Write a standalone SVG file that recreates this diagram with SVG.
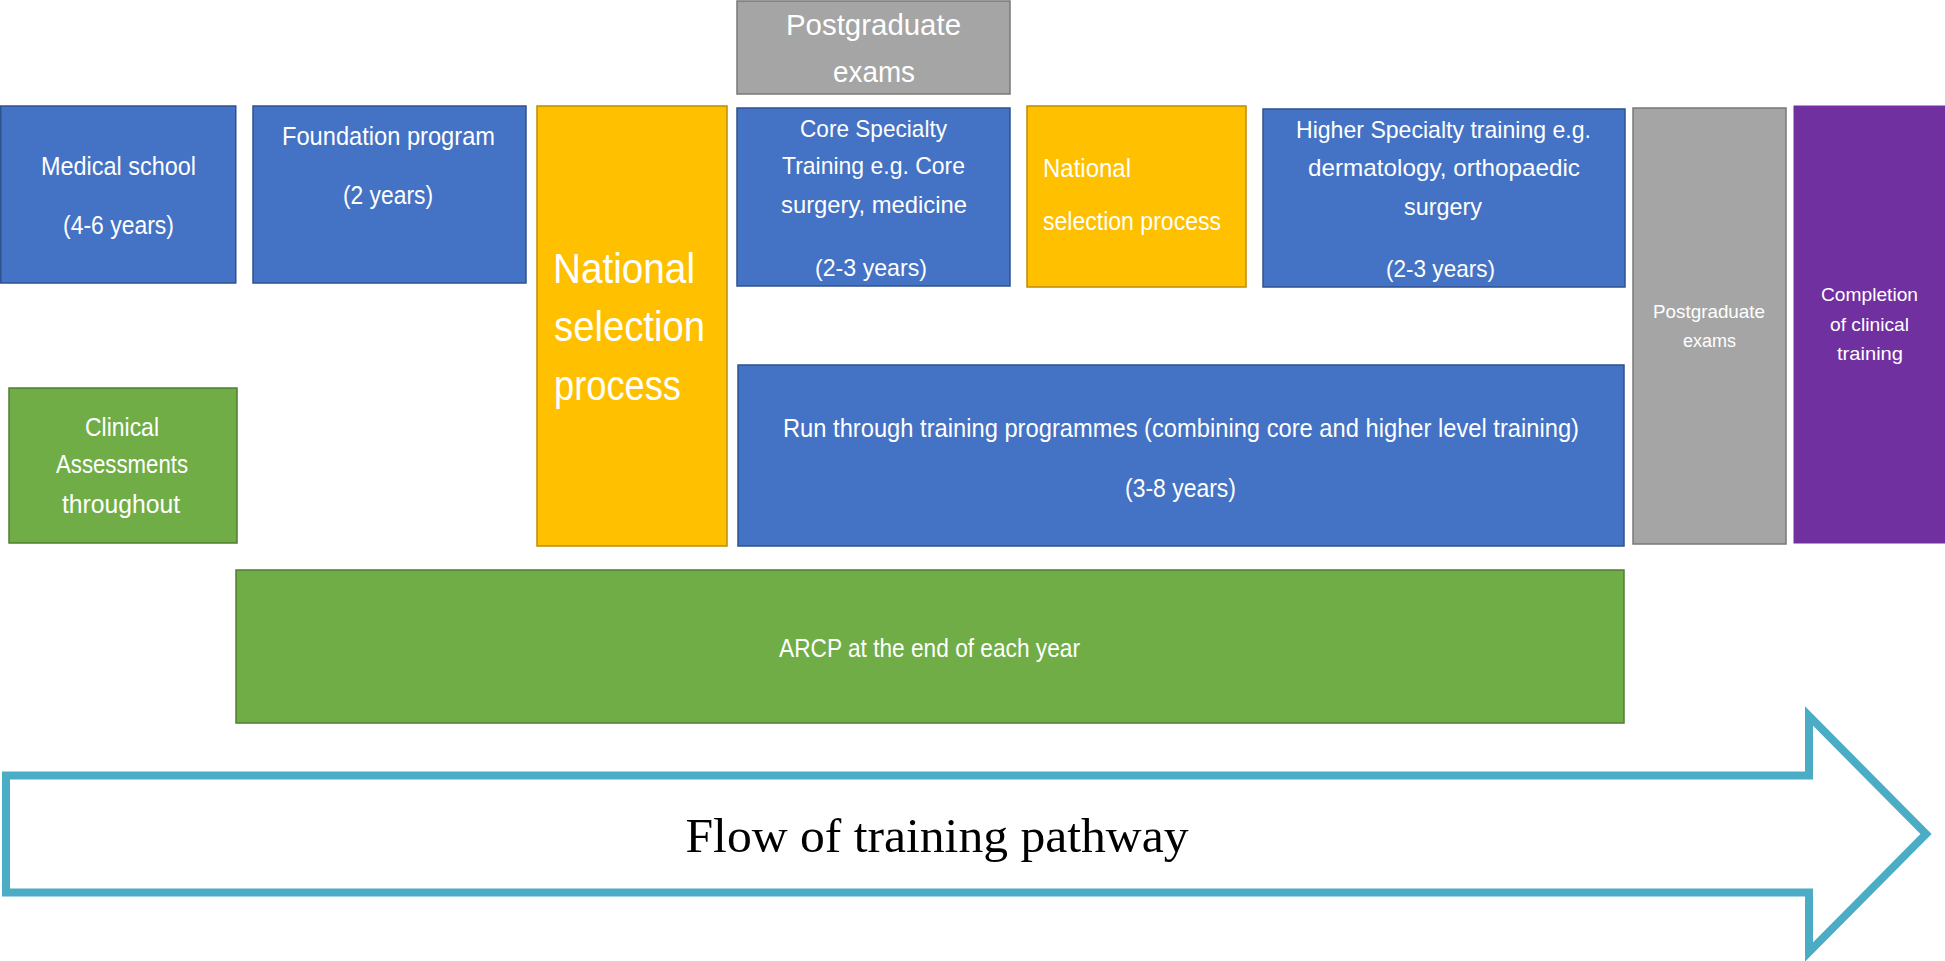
<svg xmlns="http://www.w3.org/2000/svg" width="1945" height="961" viewBox="0 0 1945 961">
<style>
.blue{fill:#4472C4;stroke:#2F528F;stroke-width:1.5}
.yellow{fill:#FFC000;stroke:#BC8C00;stroke-width:1.5}
.green{fill:#70AD47;stroke:#507E32;stroke-width:1.5}
.gray{fill:#A5A5A5;stroke:#787878;stroke-width:1.5}
.purple{fill:#7030A0;stroke:#7030A0;stroke-width:1}
text{font-family:"Liberation Sans",Arial,sans-serif;fill:#FFFFFF}
.c{text-anchor:middle}
.flow{font-family:"Liberation Serif","Times New Roman",serif;fill:#000000;text-anchor:middle}
</style>
<rect width="1945" height="961" fill="#FFFFFF"/>
<g id="medical-school">
<rect class="blue" x="0.75" y="106" width="235" height="177"/>
<text class="c" x="118.5" y="175" font-size="26" textLength="155" lengthAdjust="spacingAndGlyphs">Medical school</text>
<text class="c" x="118.5" y="234" font-size="26" textLength="111" lengthAdjust="spacingAndGlyphs">(4-6 years)</text>
</g>
<g id="foundation-program">
<rect class="blue" x="253" y="106" width="273" height="177"/>
<text class="c" x="388.5" y="145" font-size="26" textLength="213" lengthAdjust="spacingAndGlyphs">Foundation program</text>
<text class="c" x="388" y="204" font-size="26" textLength="90" lengthAdjust="spacingAndGlyphs">(2 years)</text>
</g>
<g id="national-selection-1">
<rect class="yellow" x="537" y="106" width="190" height="440"/>
<text x="553" y="283" font-size="42" textLength="142" lengthAdjust="spacingAndGlyphs">National</text>
<text x="554" y="341" font-size="42" textLength="151" lengthAdjust="spacingAndGlyphs">selection</text>
<text x="554" y="400" font-size="42" textLength="127" lengthAdjust="spacingAndGlyphs">process</text>
</g>
<g id="postgraduate-exams-top">
<rect class="gray" x="737" y="1" width="273" height="93"/>
<text class="c" x="873.5" y="35" font-size="30" textLength="175" lengthAdjust="spacingAndGlyphs">Postgraduate</text>
<text class="c" x="874" y="82" font-size="30" textLength="82" lengthAdjust="spacingAndGlyphs">exams</text>
</g>
<g id="core-specialty">
<rect class="blue" x="737" y="108" width="273" height="178"/>
<text class="c" x="873.5" y="137" font-size="24" textLength="147" lengthAdjust="spacingAndGlyphs">Core Specialty</text>
<text class="c" x="873.5" y="174" font-size="24" textLength="183" lengthAdjust="spacingAndGlyphs">Training e.g. Core</text>
<text class="c" x="874" y="213" font-size="24" textLength="186" lengthAdjust="spacingAndGlyphs">surgery, medicine</text>
<text class="c" x="871" y="276" font-size="24" textLength="112" lengthAdjust="spacingAndGlyphs">(2-3 years)</text>
</g>
<g id="national-selection-2">
<rect class="yellow" x="1027" y="106" width="219" height="181"/>
<text x="1043" y="177" font-size="25" textLength="88" lengthAdjust="spacingAndGlyphs">National</text>
<text x="1043" y="230" font-size="25" textLength="178" lengthAdjust="spacingAndGlyphs">selection process</text>
</g>
<g id="higher-specialty">
<rect class="blue" x="1263" y="109" width="362" height="178"/>
<text class="c" x="1443.5" y="138" font-size="24" textLength="295" lengthAdjust="spacingAndGlyphs">Higher Specialty training e.g.</text>
<text class="c" x="1444" y="176" font-size="24" textLength="272" lengthAdjust="spacingAndGlyphs">dermatology, orthopaedic</text>
<text class="c" x="1443" y="215" font-size="24" textLength="78" lengthAdjust="spacingAndGlyphs">surgery</text>
<text class="c" x="1440.5" y="277" font-size="24" textLength="109" lengthAdjust="spacingAndGlyphs">(2-3 years)</text>
</g>
<g id="postgraduate-exams-right">
<rect class="gray" x="1633" y="108" width="153" height="436"/>
<text class="c" x="1709" y="318" font-size="19" textLength="112" lengthAdjust="spacingAndGlyphs">Postgraduate</text>
<text class="c" x="1709.5" y="347" font-size="19" textLength="53" lengthAdjust="spacingAndGlyphs">exams</text>
</g>
<g id="completion">
<rect class="purple" x="1794" y="106" width="151" height="437"/>
<text class="c" x="1869.5" y="301" font-size="19" textLength="97" lengthAdjust="spacingAndGlyphs">Completion</text>
<text class="c" x="1869.5" y="331" font-size="19" textLength="79" lengthAdjust="spacingAndGlyphs">of clinical</text>
<text class="c" x="1870" y="360" font-size="19" textLength="66" lengthAdjust="spacingAndGlyphs">training</text>
</g>
<g id="clinical-assessments">
<rect class="green" x="9" y="388" width="228" height="155"/>
<text class="c" x="122" y="436" font-size="26" textLength="74" lengthAdjust="spacingAndGlyphs">Clinical</text>
<text class="c" x="122" y="473" font-size="26" textLength="132" lengthAdjust="spacingAndGlyphs">Assessments</text>
<text class="c" x="121" y="513" font-size="26" textLength="118" lengthAdjust="spacingAndGlyphs">throughout</text>
</g>
<g id="run-through">
<rect class="blue" x="738" y="365" width="886" height="181"/>
<text class="c" x="1181" y="437" font-size="26" textLength="796" lengthAdjust="spacingAndGlyphs">Run through training programmes (combining core and higher level training)</text>
<text class="c" x="1180.5" y="497" font-size="26" textLength="111" lengthAdjust="spacingAndGlyphs">(3-8 years)</text>
</g>
<g id="arcp">
<rect class="green" x="236" y="570" width="1388" height="153"/>
<text class="c" x="929.5" y="657" font-size="26" textLength="301" lengthAdjust="spacingAndGlyphs">ARCP at the end of each year</text>
</g>
<g id="connectors">
<g id="flow-arrow">
<path d="M6,775.5 H1809 V716 L1926,834 L1809,952 V892.5 H6 Z" fill="#FFFFFF" stroke="#4BACC6" stroke-width="8" stroke-linejoin="miter"/>
<text class="flow" x="937" y="852" font-size="48" textLength="503" lengthAdjust="spacingAndGlyphs">Flow of training pathway</text>
</g>
</g>
</svg>
